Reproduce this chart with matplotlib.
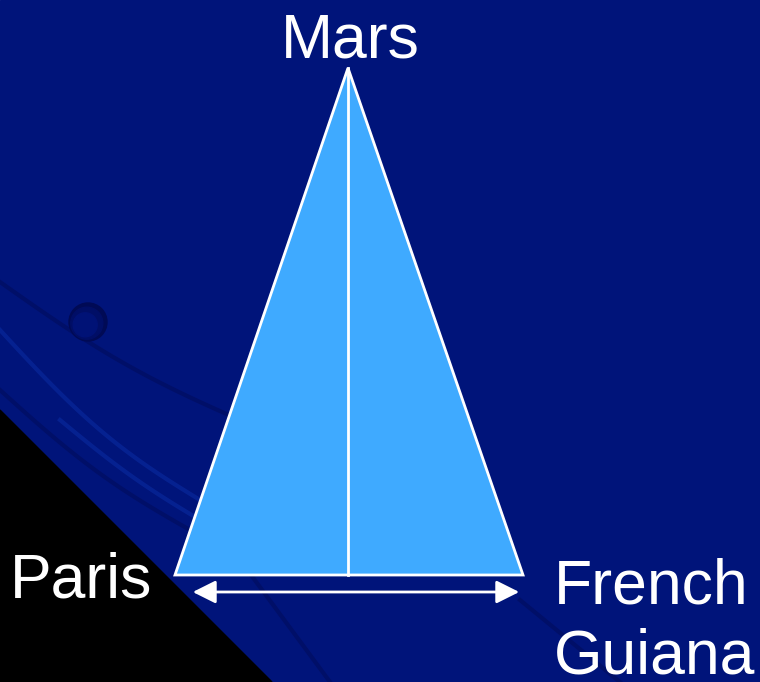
import matplotlib.pyplot as plt
from matplotlib.patches import Polygon, Circle
import numpy as np

# diagram data (pixel space of the slide)
place_names = ['Mars', 'Paris', 'French\nGuiana']
apex = [348, 68]
base_left = [175, 575]
base_right = [523, 575]
arrow_y = 592
arrow_x = [190, 522]

bg = '#00147a'
fill = '#3faaff'

fig = plt.figure(figsize=(7.6, 6.82), dpi=100)
ax = fig.add_axes([0, 0, 1, 1])
ax.set_xlim(0, 760)
ax.set_ylim(682, 0)
ax.axis('off')
ax.add_patch(Polygon([[0, 0], [760, 0], [760, 682], [0, 682]], color=bg, zorder=0))

# faint swoosh lines in the background
t = np.linspace(0, 1, 100)
for x0, y0, x1, y1, bend, col in [(0, 282, 240, 420, -10, '#000c5c'),
                                  (0, 330, 200, 500, -15, '#0a2aa0'),
                                  (0, 390, 190, 530, -10, '#000c5c'),
                                  (60, 420, 200, 520, -5, '#0a2aa0'),
                                  (240, 560, 330, 682, 0, '#000c5c'),
                                  (520, 600, 620, 682, 0, '#000c5c')]:
    xs = x0 + (x1 - x0) * t
    ys = y0 + (y1 - y0) * t - bend * np.sin(np.pi * t)
    ax.plot(xs, ys, color=col, lw=3, alpha=0.6, zorder=1)

# little planet (shaded from dark top-right to bluer bottom-left)
for r, c in [(19, '#000a55'), (16, '#000e66'), (12, '#001276')]:
    ax.add_patch(Circle((88 - (19 - r) * 0.4, 322 + (19 - r) * 0.4), r, color=c, zorder=2))

# dark corner
ax.add_patch(Polygon([[0, 410], [272, 682], [0, 682]], color='#000000', zorder=3))

# triangle + midline
ax.add_patch(Polygon([apex, base_left, base_right], closed=True, facecolor=fill,
                     edgecolor='white', lw=2, zorder=4))
ax.plot([apex[0], apex[0]], [apex[1], base_left[1]], color='white', lw=2, zorder=5)

# distance arrow
ax.annotate('', xy=(arrow_x[0], arrow_y), xytext=(arrow_x[1], arrow_y),
            arrowprops=dict(arrowstyle='<|-|>,head_length=0.5,head_width=0.25',
                            color='white', lw=2, mutation_scale=28), zorder=5)

font = 'Liberation Sans'
ax.text(350, 58, place_names[0], color='white', fontsize=45, family=font,
        ha='center', va='baseline')
ax.text(10, 598, place_names[1], color='white', fontsize=45, family=font,
        ha='left', va='baseline', zorder=6)
ax.text(554, 603, 'French', color='white', fontsize=45, family=font,
        ha='left', va='baseline')
ax.text(554, 674, 'Guiana', color='white', fontsize=45, family=font,
        ha='left', va='baseline')

fig.savefig('out.png', dpi=100)
